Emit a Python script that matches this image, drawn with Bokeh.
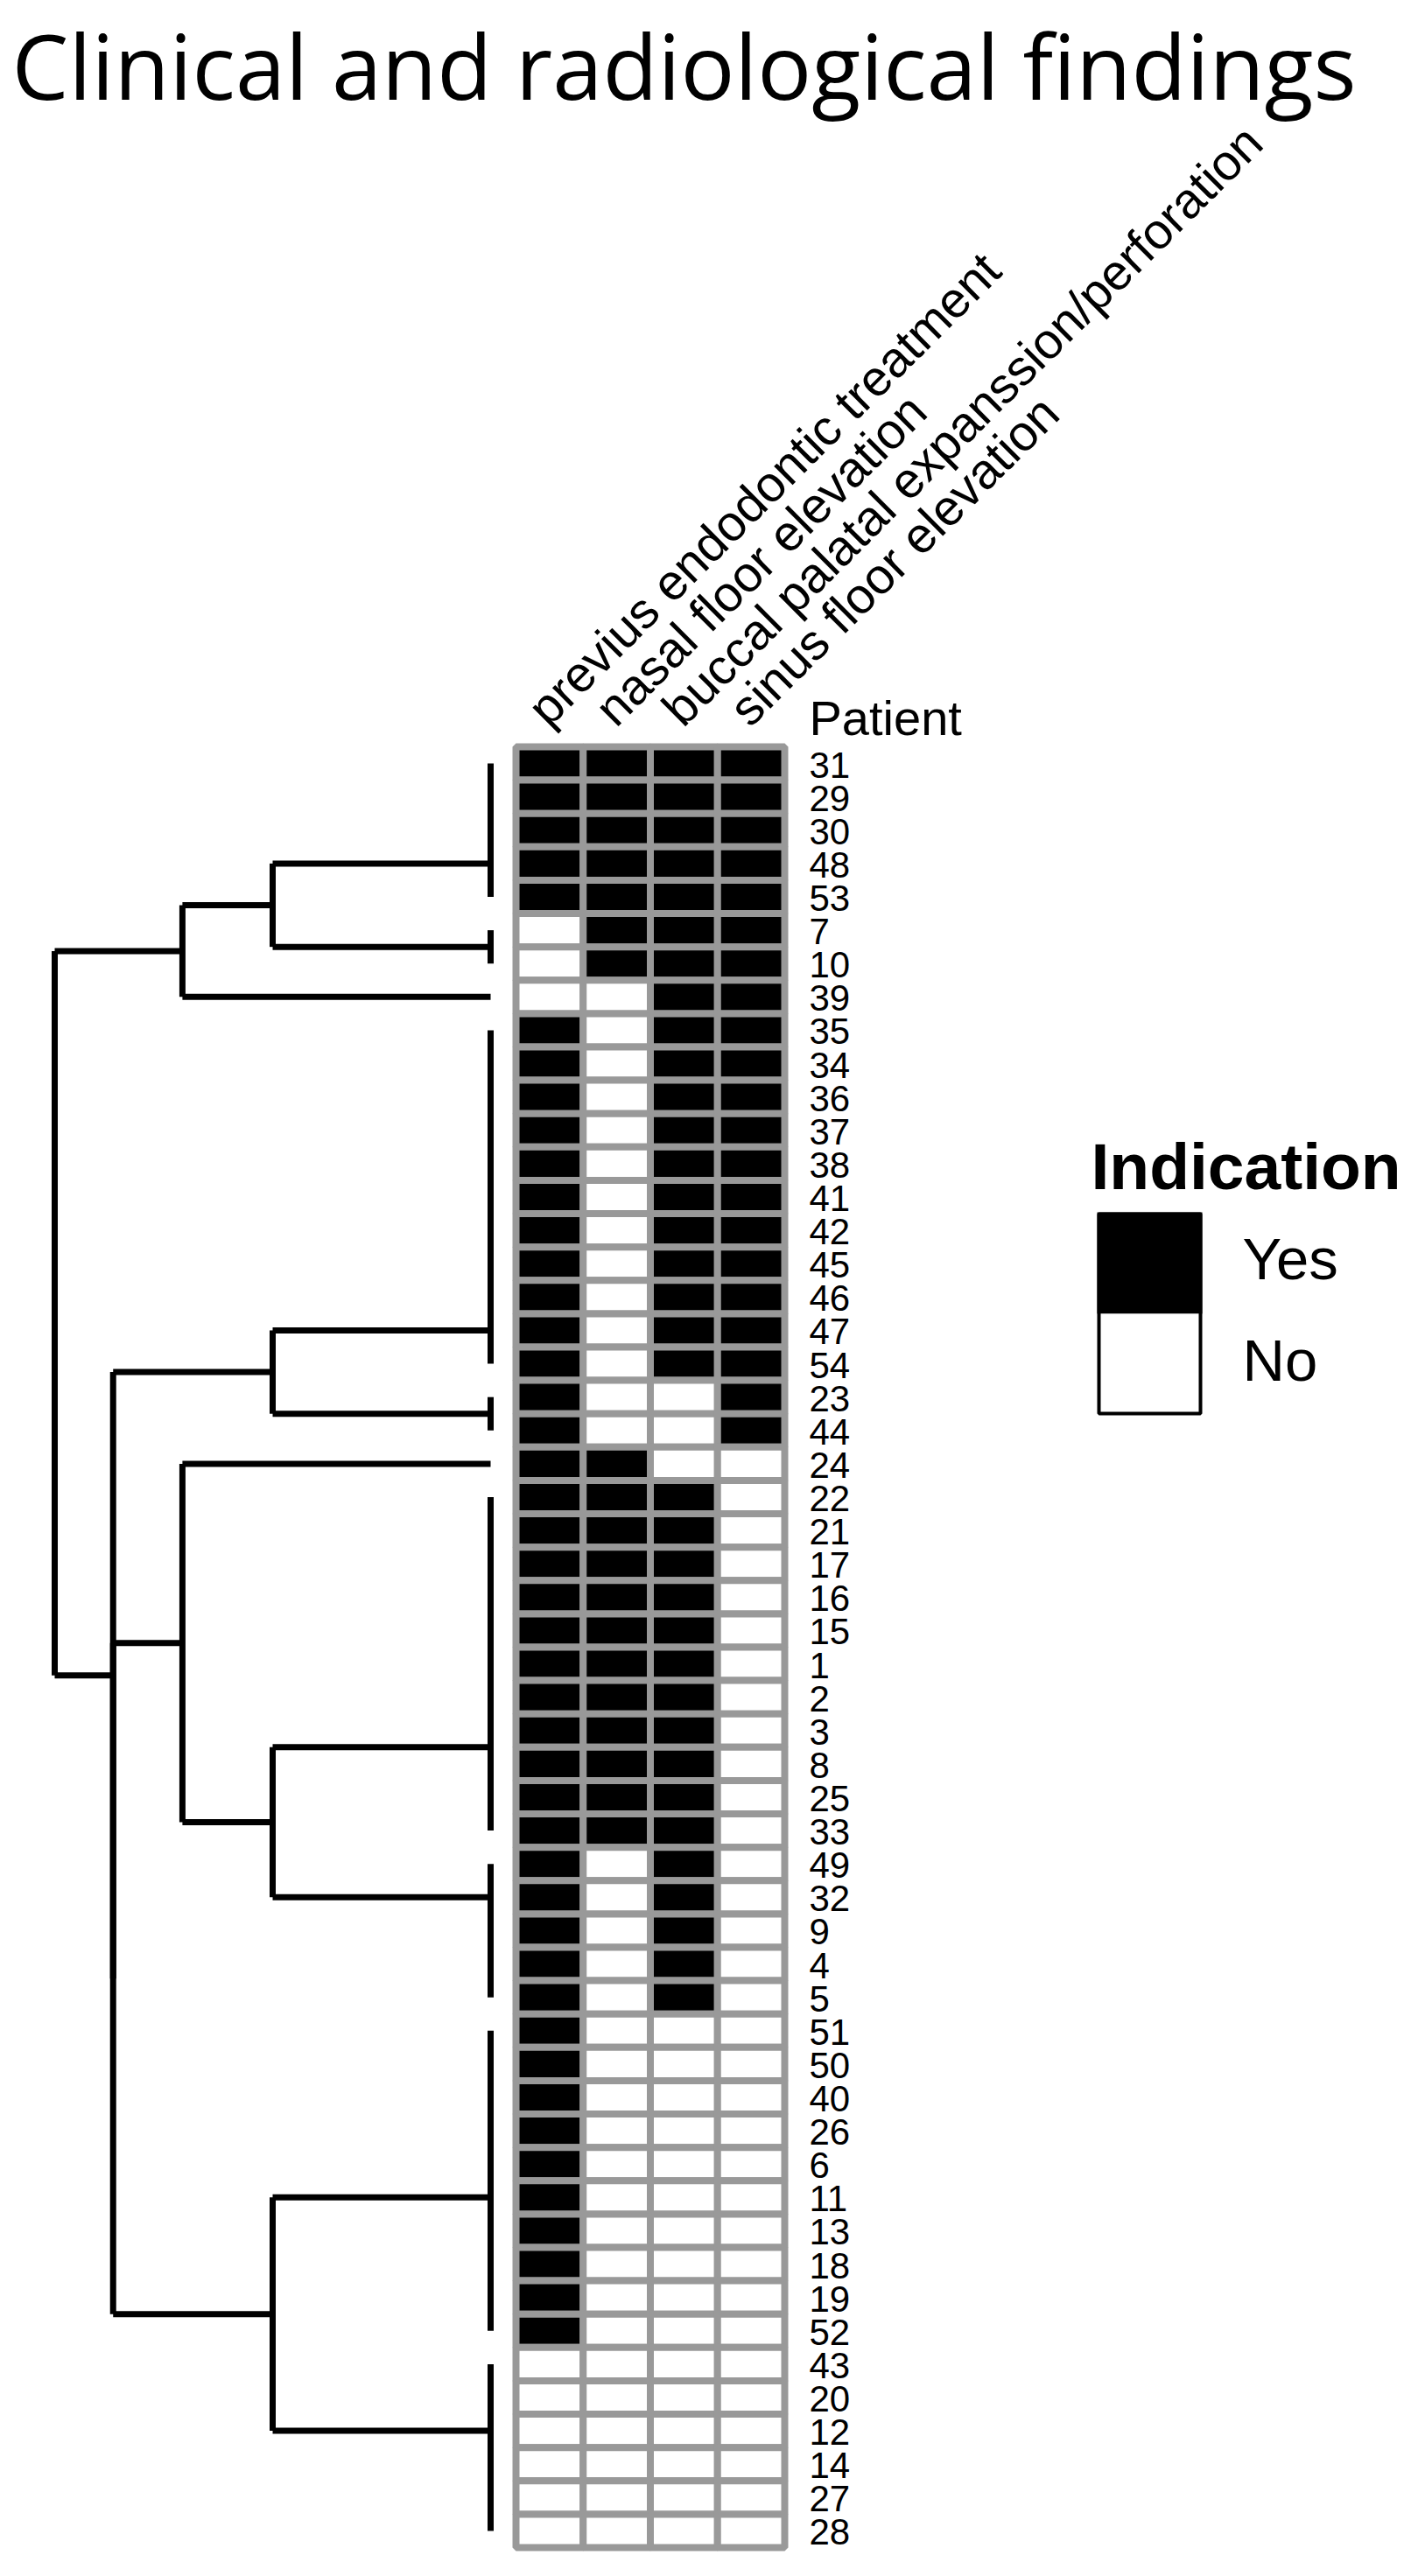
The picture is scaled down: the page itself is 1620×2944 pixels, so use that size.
import math
from bokeh.plotting import figure
from bokeh.models import Range1d, ColumnDataSource
from bokeh.core.properties import value
from bokeh.embed import file_html
from bokeh.resources import INLINE

# ------------------------------------------------------------------ data
title_text = "Clinical and radiological findings"
findings = ["previus endodontic treatment", "nasal floor elevation",
            "buccal palatal expanssion/perforation", "sinus floor elevation"]
row_title = "Patient"
patients = ["31", "29", "30", "48", "53", "7", "10", "39", "35", "34", "36", "37",
            "38", "41", "42", "45", "46", "47", "54", "23", "44", "24", "22", "21",
            "17", "16", "15", "1", "2", "3", "8", "25", "33", "49", "32", "9", "4",
            "5", "51", "50", "40", "26", "6", "11", "13", "18", "19", "52", "43",
            "20", "12", "14", "27", "28"]
previus = [1, 1, 1, 1, 1, 0, 0, 0, 1, 1, 1, 1, 1, 1, 1, 1, 1, 1, 1, 1, 1, 1, 1, 1,
           1, 1, 1, 1, 1, 1, 1, 1, 1, 1, 1, 1, 1, 1, 1, 1, 1, 1, 1, 1, 1, 1, 1, 1,
           0, 0, 0, 0, 0, 0]
nasal = [1, 1, 1, 1, 1, 1, 1, 0, 0, 0, 0, 0, 0, 0, 0, 0, 0, 0, 0, 0, 0, 1, 1, 1,
         1, 1, 1, 1, 1, 1, 1, 1, 1, 0, 0, 0, 0, 0, 0, 0, 0, 0, 0, 0, 0, 0, 0, 0,
         0, 0, 0, 0, 0, 0]
buccal = [1, 1, 1, 1, 1, 1, 1, 1, 1, 1, 1, 1, 1, 1, 1, 1, 1, 1, 1, 0, 0, 0, 1, 1,
          1, 1, 1, 1, 1, 1, 1, 1, 1, 1, 1, 1, 1, 1, 0, 0, 0, 0, 0, 0, 0, 0, 0, 0,
          0, 0, 0, 0, 0, 0]
sinus = [1, 1, 1, 1, 1, 1, 1, 1, 1, 1, 1, 1, 1, 1, 1, 1, 1, 1, 1, 1, 1, 0, 0, 0,
         0, 0, 0, 0, 0, 0, 0, 0, 0, 0, 0, 0, 0, 0, 0, 0, 0, 0, 0, 0, 0, 0, 0, 0,
         0, 0, 0, 0, 0, 0]

legend_title = "Indication"
legend_labels = ["Yes", "No"]
legend_values = [1, 0]

# dendrogram: leaf groups (identical rows) and merges (euclidean heights)
leaf_first = [0, 5, 7, 8, 19, 21, 22, 33, 38, 48]
leaf_last = [4, 6, 7, 18, 20, 21, 32, 37, 47, 53]
leaf_attach = [3.0, 5.5, 7.0, 17.0, 19.5, 21.0, 29.5, 34.0, 43.0, 50.0]
merge_a = ["L0", "M0", "L3", "L6", "L5", "L8", "M4", "M2", "M1"]
merge_b = ["L1", "L2", "L4", "L7", "M3", "L9", "M5", "M6", "M7"]
merge_height = [1.0, 1.414, 1.0, 1.0, 1.414, 1.0, 1.732, 1.732, 2.0]

# ------------------------------------------------------------------ layout
W, H = 1604, 2928
ROW_TOP, ROW_H = 853.0, 2058.0 / 54
COL_LEFT, COL_W = 589.0, 76.75
DEND_X0, DEND_PX = 560.0, 249.0
GRAY = "#999999"

p = figure(width=W, height=H, x_range=Range1d(0, W), y_range=Range1d(H, 0),
           output_backend="svg", toolbar_location=None, min_border=0,
           x_axis_location=None, y_axis_location=None)
p.grid.visible = False
p.outline_line_color = None
p.background_fill_color = "white"
p.border_fill_color = "white"

p.extra_y_ranges = {"rows": Range1d(start=(H - ROW_TOP) / ROW_H, end=-ROW_TOP / ROW_H)}
p.extra_x_ranges = {
    "cols": Range1d(start=-COL_LEFT / COL_W, end=(W - COL_LEFT) / COL_W),
    "dend": Range1d(start=DEND_X0 / DEND_PX, end=(DEND_X0 - W) / DEND_PX),
}

# ------------------------------------------------------------------ heatmap
columns = [previus, nasal, buccal, sinus]
l, r, t, b, c = [], [], [], [], []
for j, vals in enumerate(columns):
    for i, v in enumerate(vals):
        l.append(j)
        r.append(j + 1)
        t.append(i)
        b.append(i + 1)
        c.append("black" if v else "white")
hsrc = ColumnDataSource(dict(l=l, r=r, t=t, b=b, c=c))
p.quad(left="l", right="r", top="t", bottom="b", fill_color="c", line_color=GRAY,
       line_width=8, source=hsrc, x_range_name="cols", y_range_name="rows")

# ------------------------------------------------------------------ dendrogram
pos = {}
x0s, y0s, x1s, y1s = [], [], [], []
for k in range(len(leaf_first)):
    pos["L%d" % k] = (0.0, leaf_attach[k] + 0.5)
    if leaf_last[k] > leaf_first[k]:
        x0s.append(0.0); y0s.append(leaf_first[k] + 0.5)
        x1s.append(0.0); y1s.append(leaf_last[k] + 0.5)
for k in range(len(merge_a)):
    ha, ya = pos[merge_a[k]]
    hb, yb = pos[merge_b[k]]
    h = merge_height[k]
    x0s += [h, ha, hb]
    y0s += [ya, ya, yb]
    x1s += [h, h, h]
    y1s += [yb, ya, yb]
    pos["M%d" % k] = (h, (ya + yb) / 2.0)
p.segment(x0=x0s, y0=y0s, x1=x1s, y1=y1s, line_color="black", line_width=7,
          x_range_name="dend", y_range_name="rows")

# ------------------------------------------------------------------ texts
p.text(x=[13], y=[73], text=[title_text], text_font=value("Open Sans"),
       text_font_size="103px", text_color="black", text_align="left",
       text_baseline="alphabetic")

p.text(x=[j + 0.5 for j in range(len(findings))], y=[0] * len(findings), text=findings,
       angle=math.pi / 4, text_font=value("Liberation Sans"), text_font_size="57px",
       text_color="black", text_align="left", text_baseline="alphabetic",
       x_offset=-15, y_offset=-35, x_range_name="cols", y_range_name="rows")

p.text(x=[len(findings)], y=[0], text=[row_title], text_font=value("Liberation Sans"),
       text_font_size="56px", text_color="black", text_align="left",
       text_baseline="alphabetic", x_offset=28, y_offset=-33,
       x_range_name="cols", y_range_name="rows")

p.text(x=[len(findings)] * len(patients), y=[i + 0.5 for i in range(len(patients))],
       text=patients, text_font=value("Liberation Sans"), text_font_size="42px",
       text_color="black", text_align="left", text_baseline="alphabetic",
       x_offset=28, y_offset=1.5, x_range_name="cols", y_range_name="rows")

# ------------------------------------------------------------------ legend
LX, LT, LBW, LBH = 1253.0, 1385.0, 120.0, 116.0
p.text(x=[1246], y=[1332], text=[legend_title], text_font=value("Liberation Sans"),
       text_font_style="bold", text_font_size="75px", text_color="black",
       text_align="left", text_baseline="alphabetic")
lsrc = ColumnDataSource(dict(
    l=[LX] * len(legend_labels), r=[LX + LBW] * len(legend_labels),
    t=[LT + k * LBH for k in range(len(legend_labels))],
    b=[LT + (k + 1) * LBH for k in range(len(legend_labels))],
    c=["black" if v else "white" for v in legend_values],
    tx=[LX + 166] * len(legend_labels),
    ty=[LT + k * LBH + 53 for k in range(len(legend_labels))],
    lab=legend_labels))
p.quad(left="l", right="r", top="t", bottom="b", fill_color="c", line_color=None,
       source=lsrc)
p.quad(left=[LX + 2], right=[LX + LBW - 2], top=[LT + 2],
       bottom=[LT + len(legend_labels) * LBH - 2], fill_color=None,
       line_color="black", line_width=4)
p.text(x="tx", y="ty", text="lab", source=lsrc, text_font=value("Liberation Sans"),
       text_font_size="67px", text_color="black", text_align="left",
       text_baseline="alphabetic")

open("out.html", "w").write(file_html(p, INLINE))
